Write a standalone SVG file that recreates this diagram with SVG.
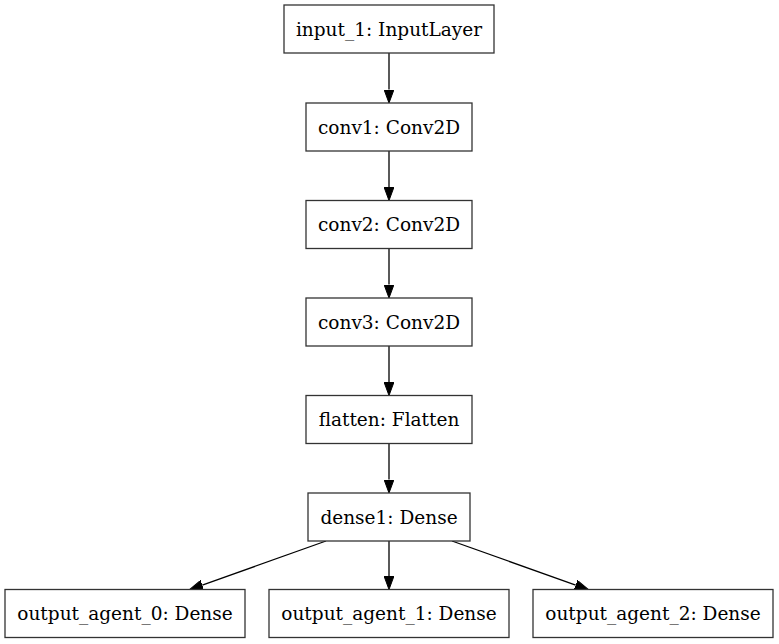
<svg xmlns="http://www.w3.org/2000/svg" width="779" height="644" viewBox="0 0 779 644">
<style>
.box{fill:#fff;stroke:#333;stroke-width:1.3}
.lbl{font-family:"DejaVu Serif","Liberation Serif",serif;font-size:18.5px;fill:#000;text-anchor:middle}
.edge{stroke:#000;stroke-width:1.3;fill:none}
</style>
<defs>
<marker id="ah" viewBox="0 -5 13.5 10" markerWidth="13.5" markerHeight="10" refX="0" refY="0" orient="auto" markerUnits="userSpaceOnUse">
<path d="M0,-5 L13.5,0 L0,5 z" fill="#000" stroke="#000" stroke-width="1"/>
</marker>
</defs>
<rect width="779" height="644" fill="#fff"/>
<g id="connectors">
<line class="edge" x1="389" y1="53" x2="389" y2="89.5" marker-end="url(#ah)"/>
<line class="edge" x1="389" y1="151" x2="389" y2="187" marker-end="url(#ah)"/>
<line class="edge" x1="389" y1="249" x2="389" y2="284.5" marker-end="url(#ah)"/>
<line class="edge" x1="389" y1="346" x2="389" y2="382" marker-end="url(#ah)"/>
<line class="edge" x1="389" y1="444" x2="389" y2="479.5" marker-end="url(#ah)"/>
<line class="edge" x1="389" y1="541" x2="389" y2="576" marker-end="url(#ah)"/>
<line class="edge" x1="326" y1="541" x2="202.3" y2="585.1" marker-end="url(#ah)"/>
<line class="edge" x1="452" y1="541" x2="575.7" y2="585.1" marker-end="url(#ah)"/>
</g>
<g id="input_1">
<rect class="box" x="284" y="5" width="210" height="48"/>
<text class="lbl" x="389" y="35.5">input_1: InputLayer</text>
</g>
<g id="conv1">
<rect class="box" x="306" y="103" width="166" height="48"/>
<text class="lbl" x="389" y="133.5">conv1: Conv2D</text>
</g>
<g id="conv2">
<rect class="box" x="306" y="200.5" width="166" height="48"/>
<text class="lbl" x="389" y="231">conv2: Conv2D</text>
</g>
<g id="conv3">
<rect class="box" x="306" y="298" width="166" height="48"/>
<text class="lbl" x="389" y="328.5">conv3: Conv2D</text>
</g>
<g id="flatten">
<rect class="box" x="306" y="395.5" width="166" height="48"/>
<text class="lbl" x="389" y="426">flatten: Flatten</text>
</g>
<g id="dense1">
<rect class="box" x="308" y="493" width="162" height="48"/>
<text class="lbl" x="389" y="523.5">dense1: Dense</text>
</g>
<g id="output_agent_0">
<rect class="box" x="5" y="589.5" width="240" height="48"/>
<text class="lbl" x="125" y="620">output_agent_0: Dense</text>
</g>
<g id="output_agent_1">
<rect class="box" x="269" y="589.5" width="240" height="48"/>
<text class="lbl" x="389" y="620">output_agent_1: Dense</text>
</g>
<g id="output_agent_2">
<rect class="box" x="533" y="589.5" width="240" height="48"/>
<text class="lbl" x="653" y="620">output_agent_2: Dense</text>
</g>
</svg>
